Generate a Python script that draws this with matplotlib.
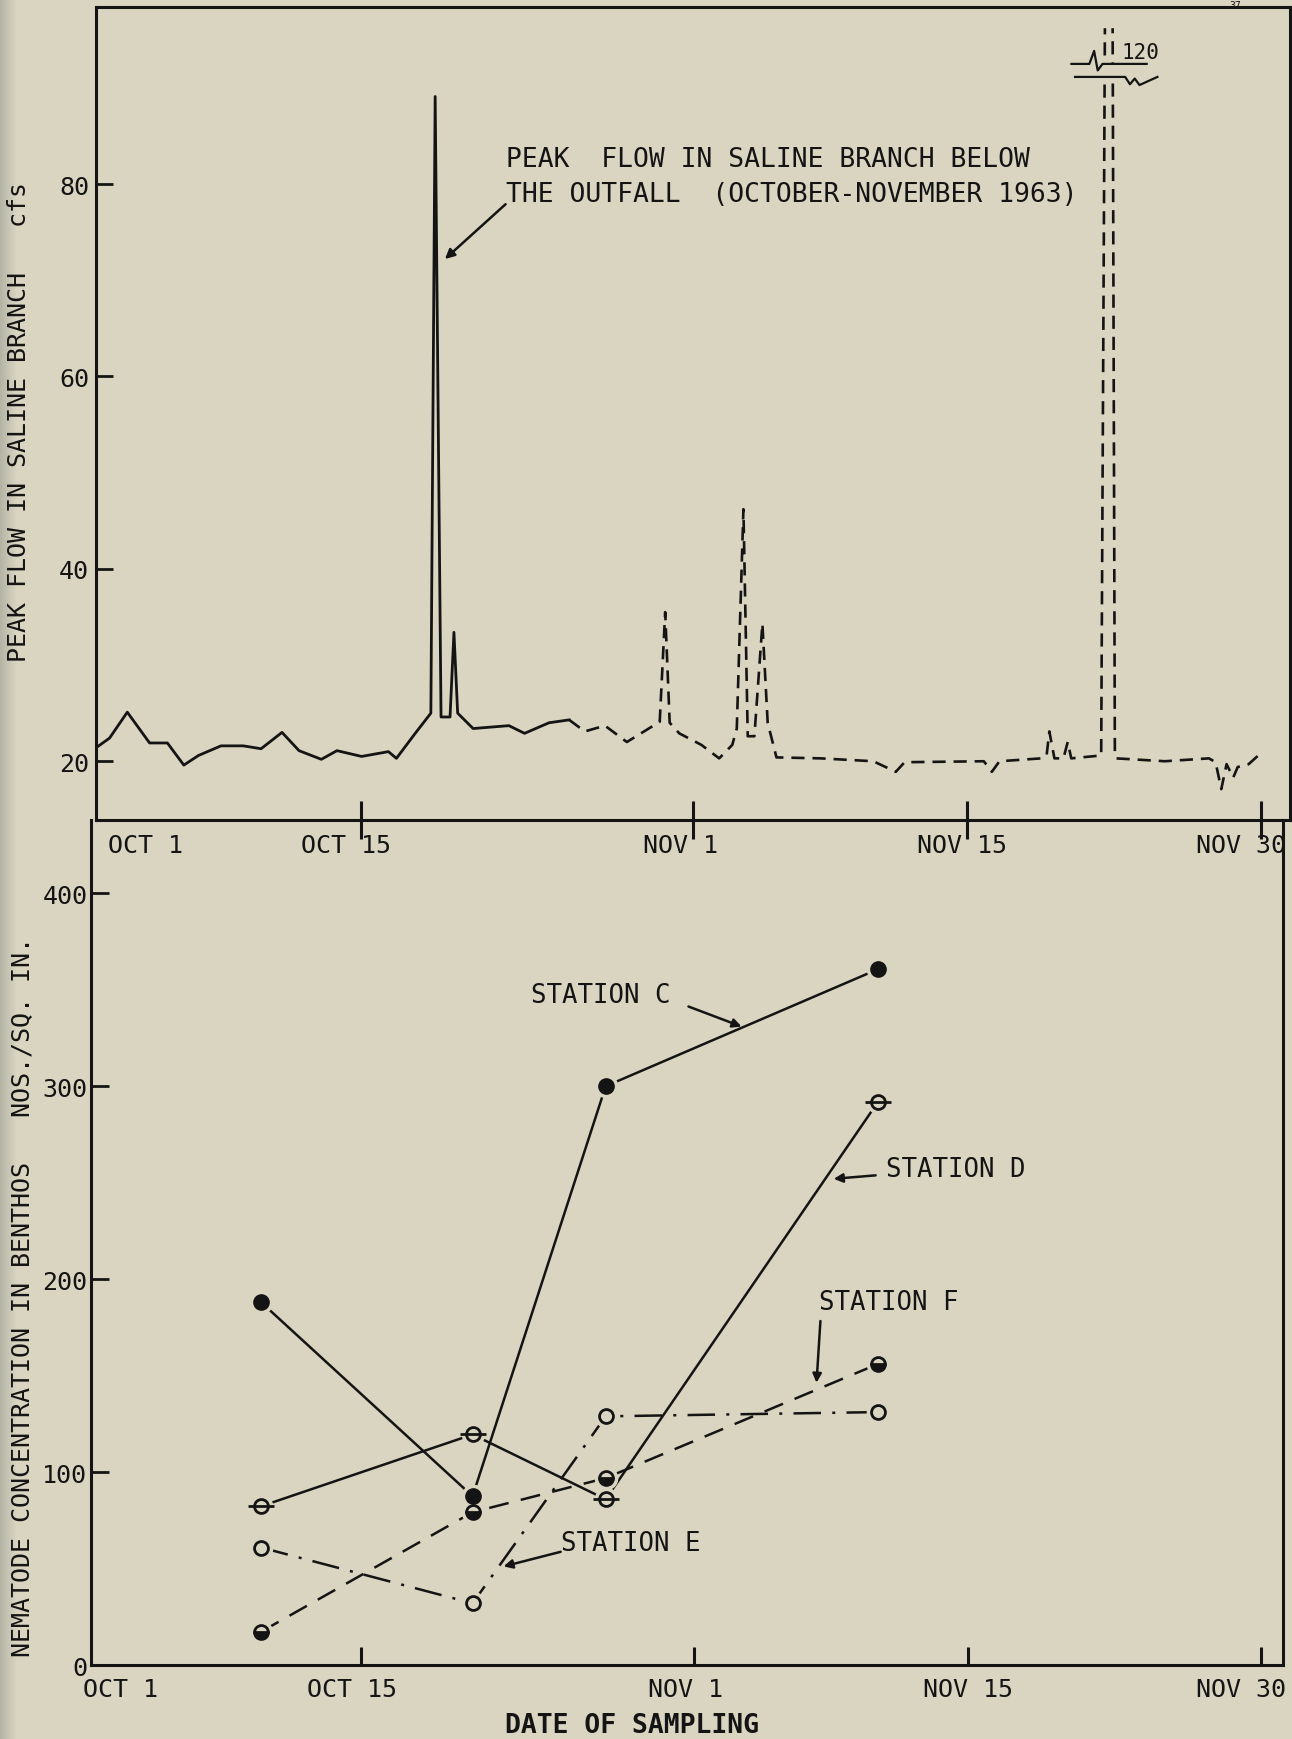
import numpy as np
import matplotlib.pyplot as plt
from matplotlib.patches import Rectangle
from matplotlib.transforms import ScaledTranslation
from matplotlib.colors import LinearSegmentedColormap

BG = '#d9d5c1'
INK = '#141414'

# peak flow in Saline Branch, x = days after Oct 1 (1963)
flow_days = [0.46, 1.15, 2.06, 3.2, 4.11, 4.95, 5.7, 6.85, 7.99, 8.9,
             9.97, 10.84, 11.98, 12.78, 14.04, 15.41, 15.82, 16.78, 17.58, 17.8,
             18.1, 18.56, 18.76, 18.95, 19.74, 21.57, 22.37, 23.62, 24.65,
             25.45, 26.48, 27.6, 29.28, 29.56, 29.79, 30.28, 31.41, 32.32, 32.99,
             33.22, 33.56, 33.78, 34.12, 34.53, 34.8, 35.25, 37.5, 40.2, 41.35,
             41.8, 45.85, 46.26, 46.65, 48.79, 49.06, 49.2, 49.46, 49.92, 50.14,
             50.32, 51.85, 52.1, 52.4, 52.55, 52.62, 55.1, 57.36, 57.7, 57.99,
             58.26, 58.6, 58.83, 59.39, 59.88]
flow_cfs = [21.4, 22.4, 25.1, 21.9, 21.9, 19.6, 20.6, 21.6, 21.6, 21.3,
            23.0, 21.1, 20.2, 21.1, 20.5, 21.0, 20.3, 22.9, 25.0, 89.1,
            24.6, 24.6, 33.4, 25.0, 23.4, 23.7, 22.9, 24.0, 24.3,
            23.1, 23.7, 22.0, 24.1, 35.5, 24.0, 22.9, 21.7, 20.3, 21.7,
            23.4, 46.2, 22.6, 22.6, 34.3, 24.0, 20.4, 20.3, 20.0, 18.9,
            19.9, 20.0, 18.9, 20.0, 20.3, 20.6, 23.1, 20.3, 20.3, 22.0,
            20.3, 20.6, 120.0, 120.0, 20.6, 20.3, 20.0, 20.3, 19.9, 17.1,
            19.7, 18.3, 19.4, 19.7, 20.6]
n_solid = 29  # recorded part drawn solid, rest dashed

# nematode samples, x = days after Oct 1
sample_days = [8.9, 19.7, 26.5, 40.4]
station_c = [188, 87.5, 300, 360.6]
station_d = [82.3, 119.5, 85.9, 291.7]
station_e = [60.9, 32, 128.9, 131.1]
station_f = [17.3, 79.2, 96.9, 156]

tick_days = [14, 31, 45, 60]
tick_labels = ['OCT 15', 'NOV 1', 'NOV 15', 'NOV 30']

plt.rcParams['font.family'] = ['DejaVu Sans Mono', 'DejaVu Sans']
plt.rcParams['font.size'] = 18
plt.rcParams['text.color'] = INK

fig = plt.figure(figsize=(12.92, 17.4), dpi=100, facecolor=BG)

# grey scan edge on the left
strip = fig.add_axes([0, 0, 0.013, 1])
cm = LinearSegmentedColormap.from_list('edge', ['#b4b4a6', BG])
strip.imshow(np.linspace(0, 1, 32)[None, :], cmap=cm, aspect='auto')
strip.axis('off')

# ---------------- top panel: flow ----------------
ax1 = fig.add_axes([0.0743, 0.5282, 0.9241, 0.4672])
ax1.set_facecolor('none')
ax1.plot(flow_days[:n_solid], flow_cfs[:n_solid], color=INK, lw=2.0, zorder=2)
ax1.plot(flow_days[n_solid - 1:], flow_cfs[n_solid - 1:], color=INK, lw=1.9,
         dashes=(5, 3), zorder=2)
ax1.set_xlim(0.46, 61.5)
ax1.set_ylim(13.9, 98.4)
ax1.set_yticks([20, 40, 60, 80])
ax1.set_xticks(tick_days, tick_labels)
ax1.tick_params(axis='x', direction='inout', length=27, width=2.2, pad=-4,
                labelsize=18, colors=INK)
ax1.tick_params(axis='y', direction='in', length=12, width=2, pad=5,
                labelsize=18, colors=INK)
for s in ax1.spines.values():
    s.set_linewidth(2.2)
    s.set_color(INK)

# lettering sits a little left of each tick, as on the drawing
for lab, dx in zip(ax1.get_xticklabels(), [-0.15, -0.13, -0.05, -0.20]):
    lab.set_transform(lab.get_transform() + ScaledTranslation(dx, 0, fig.dpi_scale_trans))
ax1.text(3.0, 0, 'OCT 1', ha='center', va='top', fontsize=18,
         transform=ax1.get_xaxis_transform() + ScaledTranslation(0, -0.132, fig.dpi_scale_trans))

ax1.text(21.4, 84.0, 'PEAK  FLOW IN SALINE BRANCH BELOW\nTHE OUTFALL  (OCTOBER-NOVEMBER 1963)',
         ha='left', va='top', fontsize=19, linespacing=1.45)
ax1.annotate('', xy=(18.3, 72.2), xytext=(21.4, 77.9),
             arrowprops=dict(arrowstyle='-|>', color=INK, lw=1.8,
                             mutation_scale=14, shrinkA=0, shrinkB=0))

# axis break for the 120 cfs peak
ax1.add_patch(Rectangle((0.835, 0.914), 0.03, 0.016, transform=ax1.transAxes,
                        color=BG, zorder=2.1))
ax1.add_patch(Rectangle((0.835, 0.975), 0.03, 0.025, transform=ax1.transAxes,
                        color=BG, zorder=2.1))
ax1.plot([0.817, 0.832, 0.836, 0.839, 0.843, 0.880],
         [0.930, 0.930, 0.946, 0.922, 0.930, 0.930],
         transform=ax1.transAxes, color=INK, lw=1.6, zorder=2.2, clip_on=False)
ax1.plot([0.820, 0.862, 0.866, 0.870, 0.874, 0.889],
         [0.914, 0.914, 0.905, 0.912, 0.904, 0.914],
         transform=ax1.transAxes, color=INK, lw=1.6, zorder=2.2, clip_on=False)
ax1.text(0.859, 0.945, '120', transform=ax1.transAxes, fontsize=15,
         ha='left', va='center')

# ---------------- bottom panel: nematodes ----------------
ax2 = fig.add_axes([0.0708, 0.0425, 0.9222, 0.4857])
ax2.set_facecolor('none')
ax2.plot(sample_days, station_c, color=INK, lw=1.8, zorder=2)
ax2.plot(sample_days, station_d, color=INK, lw=1.8, zorder=2)
ax2.plot(sample_days, station_e, color=INK, lw=1.8, dashes=(11, 4.5, 1.2, 4.5), zorder=2)
ax2.plot(sample_days, station_f, color=INK, lw=1.8, dashes=(8, 5), zorder=2)
for vals in (station_c, station_d, station_e, station_f):
    ax2.plot(sample_days, vals, ls='none', marker='o', ms=16, mfc=BG, mec=BG, zorder=3)
ax2.plot(sample_days, station_c, ls='none', marker='o', ms=11, mfc=INK, mec=INK, zorder=4)
ax2.plot(sample_days, station_d, ls='none', marker='o', ms=10, mfc=BG, mec=INK,
         mew=2, zorder=4)
ax2.plot(sample_days, station_d, ls='none', marker='_', ms=19, mec=INK, mew=2, zorder=4)
ax2.plot(sample_days, station_e, ls='none', marker='o', ms=10, mfc=BG, mec=INK,
         mew=2, zorder=4)
ax2.plot(sample_days, station_f, ls='none', marker='o', ms=10, fillstyle='bottom',
         mfc=INK, mfcalt=BG, mec=INK, mew=2, zorder=4)

ax2.set_xlim(0.23, 61.1)
ax2.set_ylim(0, 438)
ax2.set_yticks([0, 100, 200, 300, 400])
ax2.set_xticks(tick_days, tick_labels)
ax2.tick_params(axis='x', direction='in', length=13, width=2.2, pad=8.5,
                labelsize=18, colors=INK)
ax2.tick_params(axis='y', direction='in', length=13, width=2, pad=3,
                labelsize=18, colors=INK)
ax2.spines['top'].set_visible(False)
for s in ax2.spines.values():
    s.set_linewidth(2.2)
    s.set_color(INK)
for lab, dx in zip(ax2.get_xticklabels(), [-0.09, -0.08, 0.0, -0.20]):
    lab.set_transform(lab.get_transform() + ScaledTranslation(dx, 0, fig.dpi_scale_trans))
ax2.text(0, 0, 'OCT 1', ha='left', va='top', fontsize=18,
         transform=ax2.transAxes + ScaledTranslation(-0.08, -0.118, fig.dpi_scale_trans))

arrow = dict(arrowstyle='-|>', color=INK, lw=1.8, mutation_scale=13, shrinkA=0, shrinkB=0)
ax2.text(22.7, 347.5, 'STATION C', ha='left', va='center', fontsize=18.5)
ax2.annotate('', xy=(33.44, 330.9), xytext=(30.73, 341.3), arrowprops=arrow)
ax2.text(40.8, 257, 'STATION D', ha='left', va='center', fontsize=18.5)
ax2.annotate('', xy=(38.15, 252), xytext=(40.29, 253.8), arrowprops=arrow)
ax2.text(37.39, 188, 'STATION F', ha='left', va='center', fontsize=18.5)
ax2.annotate('', xy=(37.27, 146.3), xytext=(37.47, 178.3), arrowprops=arrow)
ax2.text(24.2, 63.4, 'STATION E', ha='left', va='center', fontsize=18.5)
ax2.annotate('', xy=(21.28, 51.1), xytext=(24.2, 58.7), arrowprops=arrow)

# axis titles
fig.text(19 / 1292, 1 - 422 / 1740, 'PEAK FLOW IN SALINE BRANCH   cfs',
         rotation=90, ha='center', va='center', fontsize=18)
fig.text(22 / 1292, 1 - 1297 / 1740, 'NEMATODE CONCENTRATION IN BENTHOS   NOS./SQ. IN.',
         rotation=90, ha='center', va='center', fontsize=18)
fig.text(632 / 1292, 1 - 1726 / 1740, 'DATE OF SAMPLING', ha='center', va='center',
         fontsize=19, fontweight='bold')
# page number peeking above the frame
fig.text(1235 / 1292, 1 - 1 / 1740, '37', ha='center', va='top', fontsize=7)

fig.savefig('out.png', dpi=100, facecolor=BG)
